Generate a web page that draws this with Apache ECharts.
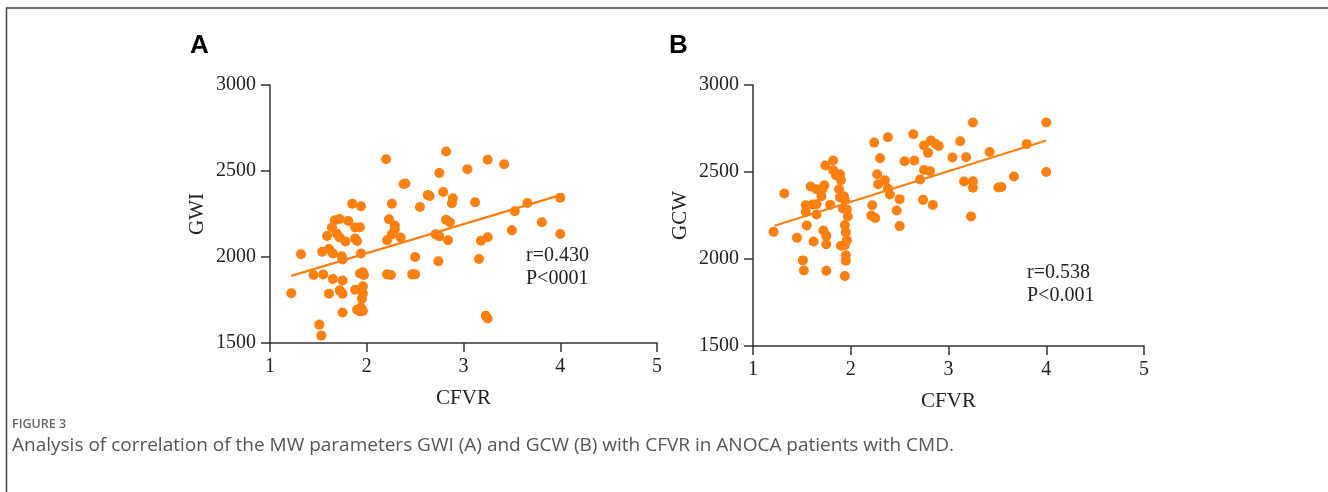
<!DOCTYPE html>
<html>
<head>
<meta charset="utf-8">
<script src="https://cdn.jsdelivr.net/npm/echarts@6/dist/echarts.min.js"></script>
<style>
html, body { margin: 0; padding: 0; background: #fff; }
#fig { width: 1328px; height: 492px; }
</style>
</head>
<body>
<div id="fig"></div>
<script>
// panel A: CFVR vs GWI
var gwiPoints = [
    [1.22, 1789], [1.32, 2016], [1.45, 1895], [1.55, 1898], [1.54, 2031], [1.51, 1607],
    [1.53, 1543], [1.59, 2122], [1.61, 2047], [1.65, 2020], [1.61, 1787], [1.65, 1872],
    [1.67, 2213], [1.72, 2221], [1.64, 2171], [1.69, 2136], [1.72, 2113], [1.78, 2090],
    [1.74, 2004], [1.75, 1985], [1.72, 1806], [1.75, 1787], [1.75, 1863], [1.75, 1677],
    [1.81, 2209], [1.85, 2310], [1.88, 2171], [1.88, 2107], [1.90, 2093], [1.94, 2295],
    [1.93, 2173], [1.94, 2020], [1.88, 1810], [1.93, 1904], [1.96, 1911], [1.97, 1895],
    [1.96, 1830], [1.96, 1787], [1.95, 1758], [1.90, 1694], [1.94, 1706], [1.96, 1686],
    [1.93, 1684], [2.20, 2568], [2.21, 2097], [2.21, 1899], [2.25, 1895], [2.23, 2219],
    [2.26, 2310], [2.29, 2183], [2.29, 2161], [2.26, 2132], [2.35, 2113], [2.38, 2424],
    [2.40, 2427], [2.50, 2000], [2.47, 1899], [2.50, 1899], [2.55, 2291], [2.63, 2360],
    [2.65, 2355], [2.82, 2613], [2.75, 2488], [2.79, 2378], [2.89, 2341], [2.88, 2312],
    [3.04, 2510], [3.25, 2566], [3.42, 2539], [3.12, 2318], [2.82, 2217], [2.86, 2202],
    [2.71, 2132], [2.75, 2120], [2.84, 2097], [2.74, 1975], [3.16, 1988], [3.18, 2095],
    [3.25, 2115], [3.50, 2155], [3.53, 2266], [3.66, 2314], [3.81, 2202], [4.00, 2345],
    [4.00, 2134], [3.23, 1659], [3.25, 1642]
];
var gwiFit = [[1.22, 1890], [4.00, 2360]];
var gwiStats = ['r=0.430', 'P<0001'];

// panel B: CFVR vs GCW
var gcwPoints = [
    [1.21, 2156], [1.32, 2376], [1.45, 2122], [1.51, 1992], [1.52, 1934], [1.55, 2193],
    [1.54, 2309], [1.54, 2271], [1.62, 2101], [1.61, 2313], [1.65, 2315], [1.65, 2256],
    [1.59, 2417], [1.65, 2401], [1.70, 2361], [1.71, 2403], [1.73, 2424], [1.74, 2537],
    [1.72, 2164], [1.75, 2133], [1.75, 2085], [1.75, 1932], [1.79, 2311], [1.82, 2566],
    [1.82, 2510], [1.85, 2480], [1.89, 2487], [1.90, 2453], [1.88, 2401], [1.89, 2354],
    [1.93, 2361], [1.94, 2338], [1.92, 2290], [1.96, 2285], [1.97, 2246], [1.94, 2195],
    [1.95, 2153], [1.96, 2108], [1.94, 2080], [1.90, 2076], [1.95, 2022], [1.95, 1990],
    [1.94, 1902], [2.24, 2669], [2.38, 2700], [2.64, 2717], [2.30, 2579], [2.27, 2487],
    [2.28, 2430], [2.35, 2453], [2.38, 2405], [2.40, 2371], [2.22, 2309], [2.21, 2250],
    [2.25, 2236], [2.50, 2344], [2.47, 2279], [2.50, 2189], [2.55, 2562], [2.65, 2566],
    [2.71, 2457], [2.74, 2340], [2.75, 2652], [2.79, 2610], [2.75, 2512], [2.81, 2505],
    [2.84, 2311], [2.82, 2681], [2.87, 2661], [2.90, 2650], [3.04, 2583], [3.12, 2677],
    [3.18, 2585], [3.25, 2784], [3.42, 2615], [3.16, 2445], [3.25, 2447], [3.25, 2409],
    [3.23, 2244], [3.51, 2411], [3.54, 2414], [3.67, 2474], [3.80, 2660], [4.00, 2784],
    [4.00, 2500]
];
var gcwFit = [[1.22, 2191], [4.00, 2681]];
var gcwStats = ['r=0.538', 'P<0.001'];

var xRange = [1, 5, 1];
var yRange = [1500, 3000, 500];
var xName = 'CFVR';
var yNames = ['GWI', 'GCW'];
var panelLabels = ['A', 'B'];
var captionTitle = 'FIGURE 3';
var captionText = 'Analysis of correlation of the MW parameters GWI (A) and GCW (B) with CFVR in ANOCA patients with CMD.';

var orange = '#fd8010';
var ink = '#222';
var serif = 'Liberation Serif';

function xAxisFor(i) {
    return {
        type: 'value', gridIndex: i,
        min: xRange[0], max: xRange[1], interval: xRange[2],
        name: xName, nameLocation: 'middle', nameGap: 45,
        nameTextStyle: { fontFamily: serif, fontSize: 21, color: ink },
        axisLine: { lineStyle: { color: '#333', width: 1.5 } },
        axisTick: { length: 9, lineStyle: { color: '#333', width: 1.5 } },
        axisLabel: { margin: 14, fontFamily: serif, fontSize: 20, color: ink },
        splitLine: { show: false }
    };
}
function yAxisFor(i) {
    return {
        type: 'value', gridIndex: i,
        min: yRange[0], max: yRange[1], interval: yRange[2],
        name: yNames[i], nameLocation: 'middle', nameGap: 62, nameRotate: 90,
        nameTextStyle: { fontFamily: serif, fontSize: 21, color: ink },
        axisLine: { show: true, lineStyle: { color: '#333', width: 1.5 } },
        axisTick: { show: true, length: 9, lineStyle: { color: '#333', width: 1.5 } },
        axisLabel: { margin: 14, fontFamily: serif, fontSize: 20, color: ink,
                     formatter: function (v) { return String(v); } },
        splitLine: { show: false }
    };
}
function scatterFor(i, pts) {
    return {
        type: 'scatter', xAxisIndex: i, yAxisIndex: i,
        data: pts, symbolSize: 10,
        itemStyle: { color: orange, opacity: 1 },
        z: 3
    };
}
function fitFor(i, pts) {
    return {
        type: 'line', xAxisIndex: i, yAxisIndex: i,
        data: pts, showSymbol: false, symbol: 'none',
        lineStyle: { color: orange, width: 2.2 },
        z: 2
    };
}
function statsText(left, top, lines) {
    return {
        type: 'text', left: left, top: top,
        style: { text: lines.join('\n'), font: '20px "Liberation Serif"', fill: ink, lineHeight: 23 }
    };
}

var chart = echarts.init(document.getElementById('fig'));
var option = {
    backgroundColor: '#fff',
    animation: false,
    grid: [
        { left: 270, top: 85, width: 387, height: 258 },
        { left: 753, top: 85, width: 391, height: 261 }
    ],
    xAxis: [xAxisFor(0), xAxisFor(1)],
    yAxis: [yAxisFor(0), yAxisFor(1)],
    series: [
        fitFor(0, gwiFit), scatterFor(0, gwiPoints),
        fitFor(1, gcwFit), scatterFor(1, gcwPoints)
    ],
    graphic: [
        // figure frame
        { type: 'polyline', shape: { points: [[1328, 8], [6.5, 8], [6.5, 492]] },
          style: { stroke: '#444', lineWidth: 1.5, fill: null } },
        { type: 'text', left: 190, top: 33,
          style: { text: panelLabels[0], font: 'bold 26px "Liberation Sans"', fill: '#000' } },
        { type: 'text', left: 669, top: 33,
          style: { text: panelLabels[1], font: 'bold 26px "Liberation Sans"', fill: '#000' } },
        statsText(526, 244, gwiStats),
        statsText(1027, 261, gcwStats),
        { type: 'text', left: 12, top: 418,
          style: { text: captionTitle, font: '600 12.5px "Open Sans"', fill: '#666' } },
        { type: 'text', left: 12, top: 436,
          style: { text: captionText, font: '19px "Open Sans"', fill: '#555' } }
    ]
};
chart.setOption(option);
</script>
</body>
</html>
